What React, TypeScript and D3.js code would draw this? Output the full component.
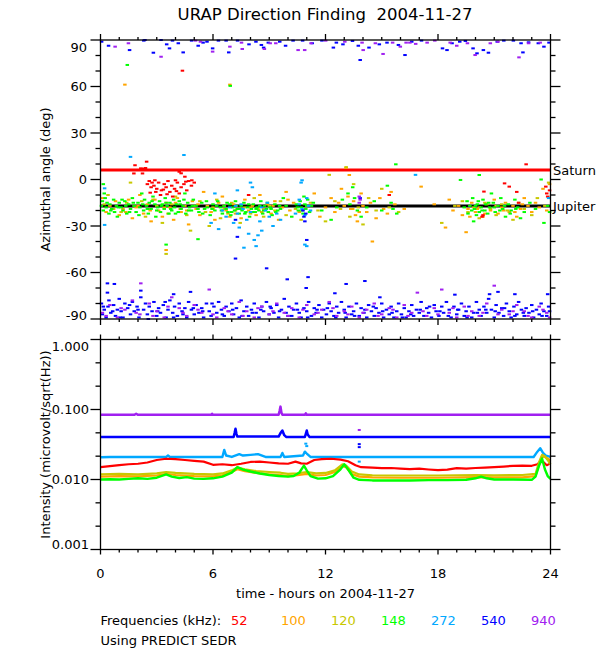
import React from 'react';
import * as d3 from 'd3';

type P = [number, number];

const title = 'URAP Direction Finding  2004-11-27';
const freqLabels = ['52', '100', '120', '148', '272', '540', '940'];
const freqColors = ['#ff0000', '#ffa500', '#c8c800', '#00ff00', '#00a8ff', '#0000ff', '#a020f0'];
const xTicks = [0, 6, 12, 18, 24];
const azTicks = [-90, -60, -30, 0, 30, 60, 90];
const intTicks = [0.001, 0.01, 0.1, 1];
const intTickLabels = ['0.001', '0.010', '0.100', '1.000'];
const saturnAngle = 6.1;
const jupiterAngle = -17.1;

// ---- azimuth scatter (hours, deg) ----
const az52: P[] = [
  [1.84, 9.2], [2.15, 7.2], [2.3, 7.0], [2.4, 7.4], [2.46, 11.5], [2.24, 3.9], [1.78, 3.9],
  [2.6, -1], [2.75, -2], [2.9, -0.5], [2.5, -3], [2.7, -5], [2.85, -4], [3.0, -6], [3.1, -2],
  [3.25, -7], [3.4, -3], [3.5, -5], [3.6, -1], [3.7, -8], [3.8, -4], [3.95, -6], [4.1, -2],
  [4.2, -9], [4.3, -5], [4.45, -3], [4.6, -7], [4.7, -1], [4.85, -4], [5.0, -2], [3.2, -10],
  [3.55, -9.5], [2.95, -8], [4.0, -0.5], [4.5, 1.8], [4.2, 5], [4.3, 4], [4.55, -1.4],
  [4.87, -0.5], [7.9, -10], [15.4, -10], [20.35, -24], [20.4, -23], [20.45, -7.8], [21.55, -2.5],
  [21.8, -4.6], [22.2, -8], [22.3, -15], [22.7, 9.8], [23.75, -4.6], [23.8, -9], [23.85, -11],
  [23.95, -7], [4.37, 70.2], [3.35, -6.5], [2.65, -8.5], [3.85, -11], [4.05, -7.5],
];

const az100: P[] = [
  [0.1, -12], [0.3, -21], [0.5, -17], [0.8, -14], [1.0, -23], [1.2, -19], [1.5, -13], [1.7, -25],
  [1.9, -18], [2.1, -10], [2.3, -22], [2.5, -16], [2.7, -27], [2.9, -13], [3.1, -20], [3.3, -24],
  [3.5, -15], [3.7, -18], [3.9, -26], [4.1, -12], [4.3, -21], [4.5, -17], [4.7, -29], [4.9, -14],
  [5.1, -19], [5.3, -23], [5.5, -8], [5.7, -17], [5.9, -21], [6.1, -26], [6.3, -15], [6.5, -11],
  [6.7, -20], [6.9, -24], [7.1, -16], [7.3, -19], [7.5, -25], [7.7, -13], [7.9, -20], [8.1, -17],
  [8.3, -23], [8.5, -10], [8.7, -19], [8.9, -16], [9.1, -22], [9.3, -14], [9.5, -26], [9.7, -18],
  [9.9, -8], [10.1, -20], [10.3, -15], [10.6, -21], [11.0, -17], [11.4, -9], [11.7, -24],
  [12.0, -18], [12.3, -12], [12.5, -21], [12.7, -15], [12.85, -6], [13.0, -17], [13.1, 7.5],
  [13.2, -11], [13.27, 2.9], [13.35, -19], [13.5, -14], [13.6, -23], [13.7, -27], [13.9, -9],
  [14.0, -17], [14.2, -21], [14.4, -15], [14.5, -40], [14.7, -25], [14.9, -12], [15.1, -19],
  [15.3, -22], [15.5, -8], [15.7, -16], [16.2, -19], [17.1, -4.6], [17.8, -16], [18.4, -31],
  [18.6, -13], [18.8, -20], [19.1, -17], [19.3, -23], [19.5, -34], [19.6, -19], [19.8, -15],
  [20.0, -21], [20.2, -18], [20.4, -24], [20.6, -16], [20.8, -20], [21.0, -13], [21.2, -22],
  [21.4, -18], [21.6, -15], [21.8, -21], [22.0, -17], [22.2, -24], [22.4, -19], [22.6, -12],
  [22.8, -17], [23.0, -21], [23.2, -15], [23.4, -18], [23.6, -6], [23.8, -20], [23.95, -3],
  [1.3, 61.2], [6.9, 61.2], [3.5, -45.5],
  [0.65, -19], [1.35, -21], [2.0, -17], [2.65, -20], [3.4, -18], [4.0, -15], [4.6, -20], [5.2, -16],
  [6.0, -19], [6.6, -17], [7.2, -22], [8.0, -18], [8.6, -21], [9.2, -17], [10.0, -13], [20.1, -19],
  [20.5, -22], [21.1, -17], [21.5, -20], [22.1, -21], [22.5, -16], [19.7, -24], [13.45, -19],
  [13.8, -21],
];

const az120: P[] = [
  [0.2, -16], [0.4, -10], [0.7, -19], [1.1, -21], [1.4, -15], [1.6, -2], [1.8, -17], [2.2, -14],
  [2.4, -24], [2.6, -19], [2.8, -13], [3.0, -17], [3.3, -28], [3.6, -22], [3.8, -16], [4.0, -11],
  [4.25, -19], [4.6, -23], [4.8, -33], [5.0, -17], [5.3, -14], [5.6, -21], [5.8, -30], [6.0, -18],
  [6.2, -13], [6.4, -25], [6.6, -19], [6.8, -22], [7.0, -15], [7.2, -20], [7.45, -28], [7.7, -18],
  [8.0, -22], [8.2, -12], [8.4, -19], [8.7, -24], [9.0, -17], [9.3, -20], [9.6, -14], [9.9, -23],
  [10.4, -19], [10.7, -26], [11.2, -15], [11.6, -20], [12.0, -27], [12.2, 3], [12.5, -14],
  [12.8, -19], [13.1, 8], [13.3, -24], [13.5, -3], [13.75, -18], [14.0, -29], [14.3, -12],
  [14.7, -20], [15.0, -6], [15.4, -18], [15.9, -21], [18.2, -28], [18.9, -17], [19.3, -14],
  [19.6, -21], [19.9, -18], [20.2, -25], [20.5, -15], [20.8, -19], [21.1, -23], [21.4, -16],
  [21.7, -20], [22.0, -26], [22.3, -15], [22.6, -19], [23.0, -23], [23.3, -12], [23.7, -17],
  [23.9, -2], [3.5, -48],
];

const az148: P[] = [
  [0.05, -17], [0.1, -14], [0.15, -20], [0.2, -9], [0.3, -18], [0.35, -15], [0.45, -22], [0.5, -16],
  [0.6, -19], [0.7, -13], [0.75, -21], [0.85, -17], [0.9, -24], [1.0, -15], [1.1, -18], [1.2, -20],
  [1.3, -14], [1.4, -22], [1.5, -16], [1.6, -19], [1.7, -12], [1.8, -17], [1.9, -21], [2.0, -15],
  [2.1, -18], [2.2, -9], [2.3, -20], [2.35, -13], [2.45, -17], [2.55, -22], [2.6, -15], [2.7, -19],
  [2.8, -11], [2.9, -16], [2.95, -24], [3.05, -18], [3.15, -14], [3.2, -21], [3.3, -16], [3.4, -19],
  [3.45, -12], [3.55, -17], [3.65, -22], [3.7, -15], [3.8, -20], [3.9, -13], [3.95, -18], [4.05, -16],
  [4.15, -21], [4.2, -14], [4.3, -19], [4.4, -17], [4.5, -9], [4.55, -22], [4.65, -15], [4.75, -18],
  [4.85, -20], [4.95, -13], [5.1, -17], [5.25, -21], [5.4, -15], [5.55, -19], [5.7, -18], [5.85, -23],
  [6.0, -16], [6.1, -20], [6.25, -14], [6.4, -18], [6.5, -22], [6.6, -17], [6.7, -19], [6.8, -21],
  [6.9, -16], [6.95, -23], [7.05, -18], [7.15, -20], [7.2, -14], [7.3, -19], [7.4, -22], [7.5, -17],
  [7.55, -20], [7.65, -15], [7.75, -21], [7.85, -18], [7.95, -24], [8.05, -19], [8.15, -16],
  [8.25, -21], [8.35, -18], [8.45, -20], [8.55, -14], [8.65, -22], [8.75, -17], [8.85, -19],
  [8.95, -21], [9.05, -18], [9.15, -23], [9.3, -16], [9.45, -20], [9.6, -19], [9.75, -12], [9.9, -17],
  [10.2, -24], [10.45, -16], [10.55, -20], [10.65, -14], [10.7, -18], [10.8, -22], [10.85, -11],
  [10.9, -16], [10.95, -19], [11.05, -13], [11.15, -21], [11.25, -17], [11.35, -15], [11.8, -20],
  [12.3, -26], [12.6, -18], [12.9, -13], [13.2, -9], [13.3, -16], [13.45, -5], [13.55, -12],
  [13.7, -20], [13.9, -24], [14.2, -18], [14.6, -14], [15.0, -20], [15.3, -4], [15.5, -15],
  [15.6, -19], [15.8, -22], [15.75, 9.8], [19.2, -0.3], [19.4, -18], [19.55, -14], [19.6, -22],
  [19.7, -17], [19.8, -20], [19.85, -12], [19.95, -19], [20.05, -23], [20.1, -16], [20.2, 2.9],
  [20.2, -21], [20.3, -18], [20.4, -13], [20.5, -20], [20.55, -16], [20.65, -22], [20.75, -18],
  [20.85, -9], [20.95, -15], [21.05, -21], [21.2, -17], [21.35, -12], [21.45, -19], [21.6, -24],
  [21.75, -16], [21.9, -20], [22.1, -13], [22.25, -18], [22.4, -25], [22.6, -21], [22.9, -15],
  [23.2, -19], [23.5, 0], [23.65, -28], [23.85, -17], [23.95, -21], [1.43, 73.9], [6.92, 60.4],
  [3.5, -42], [5.2, -38.5], [19.9, -27], [0.15, -3],
  [0.25, -12], [0.55, -20], [0.95, -18], [1.15, -13], [1.35, -17], [1.55, -21], [1.75, -15],
  [2.05, -23], [2.25, -16], [2.5, -19], [2.75, -14], [3.0, -20], [3.25, -17], [3.5, -15],
  [3.75, -19], [4.0, -22], [4.25, -16], [4.45, -13], [4.7, -20], [4.9, -17], [5.2, -19],
  [5.45, -22], [5.65, -14], [5.95, -19], [6.2, -17], [6.45, -20], [6.75, -15], [7.0, -21],
  [7.25, -17], [7.45, -19], [7.7, -22], [7.9, -16], [8.1, -21], [8.3, -19], [8.5, -17], [8.7, -20],
  [8.9, -15], [9.1, -19], [9.35, -21], [9.55, -17], [10.5, -18], [10.75, -20], [11.0, -17],
  [20.0, -17], [20.35, -20], [20.7, -15], [21.0, -18], [21.3, -20], [21.55, -17], [21.85, -22],
  [22.15, -19], [20.15, -14],
];

const az272: P[] = [
  [1.6, 14.6], [4.45, 15.8], [0.22, -5.7], [0.22, -29.3], [6.5, -20], [6.7, -24], [6.9, -18],
  [7.1, -28], [7.3, -22], [7.4, -31], [7.6, -19], [7.8, -26], [7.9, -35], [8.0, -21], [8.2, -39],
  [8.3, -43], [8.5, -27], [8.6, -33], [8.8, -20], [9.0, -24], [9.2, -30], [9.4, -22], [9.6, -26],
  [5.9, -28], [6.3, -32], [8.4, -36], [7.65, -44], [10.4, -22], [10.6, -16], [10.75, -19],
  [10.9, -23], [11.0, -12], [11.1, -17], [11.2, -20], [11.0, -43], [10.9, -42], [10.7, -2],
  [10.75, -0.5], [10.6, -13], [8.1, -5], [7.3, -7], [6.1, -9], [8.0, -2], [16.8, 3.0], [23.9, -12],
  [7.2, -17], [7.5, -16], [8.6, -18], [8.9, -15],
];

const az540: P[] = [
  [0.06, 88.9], [0.43, 86.3], [1.55, 83.5], [2.31, 89.6], [2.37, 90], [2.82, 81.8], [3.23, 90],
  [3.53, 87.2], [3.68, 84.6], [3.84, 89.6], [4.15, 87.9], [4.41, 82], [4.86, 89.6], [5.21, 86.3],
  [5.47, 88.3], [5.68, 88.9], [5.98, 84.6], [6.29, 89.6], [6.7, 89.6], [6.84, 82], [7.31, 89.6],
  [7.92, 87.2], [8.29, 88.9], [8.58, 86.8], [8.7, 85.1], [8.95, 88.3], [9.56, 88.9], [9.87, 86.3],
  [10.27, 89.6], [10.78, 89.6], [11.29, 87.9], [11.81, 89.6], [12.42, 85.1], [12.58, 88.3],
  [12.93, 87.2], [13.44, 89.4], [13.75, 86.3], [13.85, 77.1], [14.32, 85.1], [14.87, 87.2],
  [15.28, 88.3], [15.89, 86.8], [16.24, 80.3], [16.6, 88.9], [17.12, 89.6], [18.24, 84.6],
  [18.48, 83.5], [18.75, 87.9], [19.16, 88.9], [19.46, 89.4], [19.87, 84.6], [20.08, 81.4],
  [20.42, 83.5], [20.69, 81.8], [21.16, 88.9], [21.51, 89.6], [22.02, 89.6], [22.43, 87.9],
  [22.53, 82], [22.83, 88.5], [23.35, 87.9], [23.65, 85.7], [23.92, 88.3],
  [7.2, -26], [7.3, -37], [7.2, -51], [10.8, -20], [10.85, -24], [10.9, -27], [10.95, -22],
  [11.0, -39], [13.85, -12], [8.86, -57.3], [9.96, -64.4], [11.07, -63], [10.97, -70],
  [13.1, -67.4], [14.1, -65.5], [12.5, -73.4], [14.9, -76], [18.9, -74.3], [20.75, -74],
  [21.2, -72.5], [22.1, -74], [23.85, -74], [0.37, -67], [0.74, -67.4], [0.37, -73], [2.15, -71.7],
  [4.8, -72.5], [3.9, -74],
  [0.05, -80], [0.1, -87], [0.2, -84], [0.3, -89], [0.4, -82], [0.45, -78], [0.55, -86], [0.7, -81],
  [0.8, -88], [0.9, -84], [1.0, -77], [1.1, -85], [1.2, -89], [1.3, -80], [1.45, -83], [1.6, -87],
  [1.7, -79], [1.8, -85], [1.95, -82], [2.05, -89], [2.15, -76], [2.3, -84], [2.4, -80], [2.5, -87],
  [2.6, -82], [2.75, -85], [2.85, -79], [3.0, -88], [3.1, -83], [3.2, -86], [3.35, -81], [3.5, -89],
  [3.6, -84], [3.7, -78], [3.85, -86], [3.95, -82], [4.1, -88], [4.2, -80], [4.35, -85], [4.5, -83],
  [4.6, -89], [4.7, -79], [4.85, -84], [5.0, -87], [5.1, -81], [5.25, -86], [5.4, -83], [5.5, -89],
  [5.65, -80], [5.8, -85], [5.9, -88], [6.05, -82], [6.2, -86], [6.3, -79], [6.45, -84], [6.6, -88],
  [6.7, -82], [6.85, -85], [7.0, -80], [7.1, -87], [7.25, -83], [7.4, -89], [7.5, -78], [7.65, -85],
  [7.8, -82], [7.9, -88], [8.05, -84], [8.2, -80], [8.3, -86], [8.45, -89], [8.6, -82], [8.7, -85],
  [8.85, -79], [9.0, -87], [9.1, -83], [9.25, -86], [9.4, -81], [9.5, -89], [9.65, -84], [9.8, -77],
  [9.9, -86], [10.05, -82], [10.2, -88], [10.3, -84], [10.45, -80], [10.6, -86], [10.7, -89],
  [10.85, -83], [11.0, -85], [11.1, -79], [11.25, -88], [11.4, -83], [11.5, -86], [11.65, -81],
  [11.8, -89], [11.9, -84], [12.05, -87], [12.2, -80], [12.3, -85], [12.45, -88], [12.6, -82],
  [12.7, -86], [12.85, -79], [13.0, -84], [13.1, -89], [13.25, -82], [13.4, -87], [13.5, -85],
  [13.65, -80], [13.8, -88], [13.9, -83], [14.05, -86], [14.2, -89], [14.3, -81], [14.45, -85],
  [14.6, -88], [14.7, -83], [14.85, -86], [15.0, -80], [15.1, -89], [15.25, -84], [15.4, -87],
  [15.5, -82], [15.65, -89], [15.8, -85], [15.9, -80], [16.05, -87], [16.2, -83], [16.3, -89],
  [16.45, -85], [16.6, -81], [16.7, -88], [16.85, -84], [17.0, -86], [17.1, -79], [17.25, -88],
  [17.4, -83], [17.5, -86], [17.65, -89], [17.8, -81], [17.9, -85], [18.05, -88], [18.2, -82],
  [18.3, -86], [18.45, -79], [18.6, -84], [18.7, -89], [18.85, -82], [19.0, -87], [19.1, -84],
  [19.25, -80], [19.4, -88], [19.5, -85], [19.65, -82], [19.8, -89], [19.9, -86], [20.05, -79],
  [20.2, -84], [20.3, -88], [20.45, -82], [20.6, -86], [20.7, -77], [20.85, -84], [21.0, -89],
  [21.1, -81], [21.25, -86], [21.4, -83], [21.5, -88], [21.65, -80], [21.8, -85], [21.9, -89],
  [22.05, -82], [22.2, -87], [22.3, -79], [22.45, -84], [22.6, -88], [22.7, -83], [22.85, -86],
  [23.0, -81], [23.1, -89], [23.25, -84], [23.4, -87], [23.5, -80], [23.65, -85], [23.8, -88],
  [23.9, -82],
  [0.15, -82], [0.65, -85], [1.05, -89], [1.55, -81], [2.0, -84], [2.55, -90], [3.05, -85],
  [3.45, -79], [3.9, -89], [4.4, -87], [4.95, -83], [5.45, -85], [5.95, -80], [6.5, -87], [7.05, -84],
  [7.55, -88], [8.1, -86], [8.55, -84], [9.05, -82], [9.55, -85], [10.0, -88], [10.5, -84],
  [11.05, -89], [11.55, -84], [12.1, -83], [12.55, -89], [13.05, -86], [13.55, -88], [14.1, -84],
  [14.55, -82], [15.05, -85], [15.55, -86], [16.1, -89], [16.55, -87], [17.05, -84], [17.55, -82],
  [18.1, -85], [18.55, -88], [19.05, -84], [19.55, -89], [20.1, -86], [20.55, -84], [21.05, -85],
  [21.55, -83], [22.1, -88], [22.55, -86], [23.05, -85], [23.55, -88], [23.95, -85],
];

const az940: P[] = [
  [0.78, 85.7], [1.49, 87.9], [3.23, 79.2], [5.07, 89.6], [5.33, 88.9], [5.98, 82.5], [6.9, 85.7],
  [7.52, 88.3], [7.56, 84.2], [8.74, 84.2], [9.05, 87.9], [9.35, 87.9], [10.54, 83.5], [10.89, 83.5],
  [11.23, 87.9], [12.01, 89.6], [13.03, 88.9], [13.95, 88.3], [14.01, 83.5], [14.66, 87.9],
  [15.07, 81], [15.58, 88.3], [15.99, 85.7], [16.3, 88.3], [16.5, 88.3], [16.81, 87.5], [17.42, 88.3],
  [17.83, 89.6], [18.65, 88.3], [19.0, 86.3], [19.57, 87.9], [19.98, 80.3], [20.79, 87.9],
  [21.2, 88.9], [22.32, 78.8], [22.83, 87.9], [23.45, 88.3],
  [13.8, -11], [13.8, -15], [13.85, -13],
  [0.1, -86], [0.5, -81], [0.9, -89], [1.3, -84], [1.7, -78], [2.1, -87], [2.15, -67], [2.6, -80],
  [3.0, -85], [3.4, -89], [3.8, -76], [4.2, -83], [4.6, -88], [5.0, -81], [5.4, -86], [5.8, -71],
  [6.2, -89], [6.6, -83], [7.0, -87], [7.4, -79], [7.8, -85], [8.2, -89], [8.6, -82], [9.0, -87],
  [9.4, -80], [9.8, -86], [10.2, -83], [10.6, -89], [11.0, -81], [11.4, -87], [11.8, -84],
  [12.2, -79], [12.6, -88], [13.0, -85], [13.4, -82], [13.8, -89], [14.2, -84], [14.6, -80],
  [15.0, -87], [15.4, -83], [15.8, -89], [16.2, -81], [16.6, -86], [16.9, -73], [17.4, -88],
  [17.8, -83], [18.2, -71], [18.6, -86], [19.0, -89], [19.4, -82], [19.8, -85], [20.2, -88],
  [20.6, -80], [21.0, -68.5], [21.4, -84], [21.8, -87], [22.2, -81], [22.6, -85], [23.0, -89],
  [23.4, -82], [23.8, -86], [23.95, -89],
  [0.3, -88], [1.1, -83], [1.9, -86], [2.8, -88], [3.6, -82], [4.4, -86], [5.2, -84], [6.0, -87],
  [6.8, -85], [7.6, -88], [8.4, -83], [9.2, -85], [10.0, -88], [10.8, -84], [11.6, -86], [12.4, -83],
  [13.2, -87], [14.0, -86], [14.8, -88], [15.6, -84], [16.4, -88], [17.2, -85], [18.0, -87],
  [18.8, -83], [19.6, -88], [20.4, -86], [21.2, -87], [22.0, -85], [22.8, -88], [23.6, -84],
];

// ---- intensity (hours, microvolt/sqrt(Hz)) ----
const int52: P[] = [
  [0, 0.0150], [0.5, 0.0155], [1.0, 0.0160], [1.5, 0.0165], [2.0, 0.0168], [2.5, 0.0175],
  [3.0, 0.0190], [3.5, 0.0198], [4.0, 0.0195], [4.5, 0.0190], [5.0, 0.0185], [5.5, 0.0180],
  [6.0, 0.0162], [6.5, 0.0165], [7.0, 0.0160], [7.5, 0.0168], [8.0, 0.0178], [8.5, 0.0180],
  [9.0, 0.0175], [9.5, 0.0170], [10.0, 0.0168], [10.4, 0.0180], [10.7, 0.0170], [11.0, 0.0168],
  [11.4, 0.0190], [11.8, 0.0196], [12.3, 0.0198], [12.8, 0.0192], [13.2, 0.0182], [13.6, 0.0160],
  [13.9, 0.0150], [14.5, 0.0148], [15.0, 0.0145], [15.5, 0.0146], [16.0, 0.0143], [16.5, 0.0141],
  [17.0, 0.0143], [17.5, 0.0139], [18.0, 0.0136], [18.5, 0.0138], [19.0, 0.0145], [19.5, 0.0143],
  [20.0, 0.0146], [20.5, 0.0148], [21.0, 0.0150], [21.5, 0.0153], [22.0, 0.0157], [22.5, 0.0158],
  [23.0, 0.0157], [23.3, 0.0165], [23.5, 0.0185], [23.65, 0.0175], [23.8, 0.0160], [24, 0.0170],
];
const int100: P[] = [
  [0, 0.0110], [1.0, 0.0112], [2.0, 0.0111], [3.0, 0.0114], [3.5, 0.0120], [4.0, 0.0116],
  [5.0, 0.0112], [6.0, 0.0111], [6.5, 0.0115], [7.0, 0.0128], [7.3, 0.0140], [7.7, 0.0132],
  [8.3, 0.0124], [9.0, 0.0118], [9.6, 0.0116], [10.0, 0.0112], [10.5, 0.0115], [11.0, 0.0120],
  [11.5, 0.0114], [12.0, 0.0116], [12.5, 0.0128], [12.9, 0.0155], [13.1, 0.0150], [13.4, 0.0120],
  [13.8, 0.0110], [14.5, 0.0107], [16, 0.0106], [18, 0.0106], [20, 0.0108], [21, 0.0107],
  [22.5, 0.0107], [23.2, 0.0112], [23.4, 0.0170], [23.55, 0.0215], [23.7, 0.0210], [23.85, 0.0200],
  [24, 0.0185],
];
const int120: P[] = [
  [0, 0.0118], [1.0, 0.0120], [2.0, 0.0118], [3.0, 0.0122], [3.5, 0.0128], [4.0, 0.0124],
  [5.0, 0.0120], [6.0, 0.0118], [6.5, 0.0122], [7.0, 0.0135], [7.3, 0.0148], [7.7, 0.0140],
  [8.3, 0.0132], [9.0, 0.0128], [9.6, 0.0125], [10.0, 0.0120], [10.5, 0.0122], [11.0, 0.0128],
  [11.5, 0.0122], [12.0, 0.0124], [12.5, 0.0135], [12.9, 0.0165], [13.1, 0.0158], [13.4, 0.0130],
  [13.8, 0.0118], [14.5, 0.0115], [16, 0.0114], [18, 0.0114], [20, 0.0116], [21, 0.0115],
  [22.5, 0.0116], [23.2, 0.0120], [23.4, 0.0180], [23.55, 0.0225], [23.7, 0.0215], [23.85, 0.0190],
  [24, 0.0165],
];
const int148: P[] = [
  [0, 0.0100], [0.5, 0.0101], [1.0, 0.0100], [1.5, 0.0102], [2.0, 0.0104], [2.5, 0.0102],
  [3.0, 0.0106], [3.5, 0.0118], [3.8, 0.0110], [4.2, 0.0105], [4.6, 0.0108], [5.0, 0.0103],
  [5.5, 0.0102], [6.0, 0.0104], [6.5, 0.0110], [7.0, 0.0125], [7.3, 0.0150], [7.6, 0.0138],
  [8.0, 0.0130], [8.5, 0.0122], [9.0, 0.0116], [9.5, 0.0112], [10.0, 0.0110], [10.3, 0.0112],
  [10.6, 0.0125], [10.85, 0.0158], [11.0, 0.0135], [11.2, 0.0112], [11.6, 0.0103], [12.0, 0.0104],
  [12.4, 0.0112], [12.8, 0.0140], [13.0, 0.0165], [13.2, 0.0140], [13.5, 0.0106], [13.8, 0.0099],
  [14.5, 0.0097], [15.5, 0.0097], [16.5, 0.0097], [17.5, 0.0098], [18.5, 0.0098], [19.5, 0.0099],
  [20.0, 0.0104], [20.3, 0.0110], [20.6, 0.0104], [21.0, 0.0100], [22.0, 0.0100], [23.0, 0.0099],
  [23.2, 0.0110], [23.4, 0.0160], [23.55, 0.0200], [23.7, 0.0140], [23.85, 0.0112], [24, 0.0102],
];
const int272: P[] = [
  [0, 0.0208], [0.5, 0.0210], [3.5, 0.0210], [3.6, 0.0220], [3.7, 0.0210], [6.5, 0.0210],
  [6.6, 0.0265], [6.7, 0.0220], [7.0, 0.0210], [7.4, 0.0230], [7.6, 0.0220], [8.0, 0.0225],
  [8.4, 0.0230], [8.8, 0.0210], [9.6, 0.0210], [9.7, 0.0240], [9.8, 0.0210], [10.8, 0.0220],
  [10.9, 0.0250], [11.0, 0.0235], [11.2, 0.0210], [13.8, 0.0210], [17.5, 0.0210], [19.2, 0.0210],
  [23.1, 0.0210], [23.3, 0.0250], [23.45, 0.0280], [23.6, 0.0240], [23.75, 0.0220], [24, 0.0210],
];
const int540: P[] = [
  [0, 0.0405], [5.0, 0.0405], [7.1, 0.0405], [7.15, 0.046], [7.2, 0.053], [7.25, 0.045],
  [7.3, 0.041], [9.5, 0.041], [9.6, 0.046], [9.7, 0.050], [9.8, 0.043], [9.9, 0.0405],
  [10.9, 0.0405], [10.95, 0.045], [11.0, 0.050], [11.05, 0.044], [11.15, 0.0405], [24, 0.0405],
];
const int940: P[] = [
  [0, 0.084], [1.8, 0.084], [1.9, 0.087], [2.0, 0.084], [5.9, 0.084], [5.95, 0.087], [6.0, 0.084],
  [9.5, 0.084], [9.55, 0.095], [9.6, 0.110], [9.65, 0.090], [9.7, 0.084], [10.9, 0.084],
  [10.95, 0.088], [11.0, 0.084], [24, 0.084],
];
// isolated intensity dots (hours, value, series index)
const intDots: [number, number, number][] = [
  [13.8, 0.051, 6], [13.8, 0.032, 5], [13.8, 0.029, 5], [10.95, 0.0325, 4], [11.0, 0.030, 4],
  [9.6, 0.100, 6], [13.8, 0.018, 4],
];

const azSeries = [az52, az100, az120, az148, az272, az540, az940];
const azDrawOrder = [1, 2, 3, 0, 4, 5, 6];
const intSeries = [int52, int100, int120, int148, int272, int540, int940];
const intDrawOrder = [6, 5, 4, 0, 1, 2, 3];
const intWidths = [2.2, 2.2, 2.2, 2.4, 2.4, 2.5, 2.5];

const FONT = "'DejaVu Sans', 'Liberation Sans', Arial, sans-serif";

export default function App() {
  const L = 100.5, R = 550.5;
  const x = d3.scaleLinear().domain([0, 24]).range([L, R]);
  const yA = d3.scaleLinear().domain([-90, 90]).range([319, 40]);
  const yI = d3.scaleLog().domain([0.001, 1]).range([549.5, 339.5]);

  const xMinor = d3.range(0, 25, 1);
  const azMinor = d3.range(-90, 91, 10);
  const intMinor: number[] = [];
  [-3, -2, -1].forEach((k) => {
    intMinor.push(Math.pow(10, k + 1 / 3), Math.pow(10, k + 2 / 3));
  });

  const line = d3
    .line<P>()
    .x((d) => x(d[0]))
    .y((d) => yI(d[1]));

  const ax = { stroke: '#000', strokeWidth: 1.3, fill: 'none' } as const;
  const txt = { fontFamily: FONT, fontSize: 13, fill: '#000' } as const;

  const panelTop = yA(90), panelBot = yA(-90);
  const iTop = yI(1), iBot = yI(0.001);

  const xTickLines = (yT: number, yB: number, majLen: number, minLen: number) =>
    xMinor.map((h) => {
      const len = h % 6 === 0 ? majLen : minLen;
      return (
        <g key={'xt' + yT + '_' + h}>
          <line x1={x(h)} x2={x(h)} y1={yT} y2={yT - len} {...ax} />
          <line x1={x(h)} x2={x(h)} y1={yB} y2={yB + len} {...ax} />
        </g>
      );
    });

  return (
    <svg
      width={600}
      height={650}
      style={{ position: 'absolute', left: 0, top: 0, background: '#fff' }}
    >
      <rect x={0} y={0} width={600} height={650} fill="#fff" />
      <text
        x={325}
        y={14}
        textAnchor="middle"
        dominantBaseline="central"
        style={{ ...txt, fontSize: 16.5, whiteSpace: 'pre' }}
      >
        {title}
      </text>

      {/* ---- top panel ---- */}
      <line x1={x(0)} x2={x(24)} y1={yA(saturnAngle)} y2={yA(saturnAngle)} stroke="#ff0000" strokeWidth={3} />
      <line x1={x(0)} x2={x(24)} y1={yA(jupiterAngle)} y2={yA(jupiterAngle)} stroke="#000" strokeWidth={3} />
      {azDrawOrder.map((si) => (
        <g key={'az' + si} fill={freqColors[si]}>
          {azSeries[si].map((d, i) => (
            <rect key={i} x={x(d[0]) - 1.75} y={yA(d[1]) - 1} width={3.5} height={2} />
          ))}
        </g>
      ))}
      <rect x={L} y={panelTop} width={R - L} height={panelBot - panelTop} {...ax} />
      {xTickLines(panelTop, panelBot, 6, 3)}
      {azMinor.map((a) => {
        const len = a % 30 === 0 ? 10 : 5;
        return (
          <g key={'ay' + a}>
            <line x1={L} x2={L - len} y1={yA(a)} y2={yA(a)} {...ax} />
            <line x1={R} x2={R + len} y1={yA(a)} y2={yA(a)} {...ax} />
          </g>
        );
      })}
      {azTicks.map((a) => (
        <text
          key={'al' + a}
          x={87}
          y={yA(a) + (a === 90 ? 7 : a === -90 ? -4 : 0)}
          textAnchor="end"
          dominantBaseline="central"
          style={txt}
        >
          {a}
        </text>
      ))}
      <text x={553} y={yA(saturnAngle)} dominantBaseline="central" style={txt}>Saturn</text>
      <text x={553} y={yA(jupiterAngle)} dominantBaseline="central" style={txt}>Jupiter</text>
      <text
        transform={`translate(45,${(panelTop + panelBot) / 2}) rotate(-90)`}
        textAnchor="middle"
        dominantBaseline="central"
        style={txt}
      >
        Azimuthal angle (deg)
      </text>

      {/* ---- bottom panel ---- */}
      {intDrawOrder.map((si) => (
        <path
          key={'il' + si}
          d={line(intSeries[si]) || ''}
          fill="none"
          stroke={freqColors[si]}
          strokeWidth={intWidths[si]}
          strokeLinejoin="round"
        />
      ))}
      {intDots.map((d, i) => (
        <rect key={'id' + i} x={x(d[0]) - 1.5} y={yI(d[1]) - 1} width={3} height={2} fill={freqColors[d[2]]} />
      ))}
      <rect x={L} y={iTop} width={R - L} height={iBot - iTop} {...ax} />
      {xTickLines(iTop, iBot, 5, 3)}
      {intTicks.map((v) => (
        <g key={'iy' + v}>
          <line x1={L} x2={L - 10} y1={yI(v)} y2={yI(v)} {...ax} />
          <line x1={R} x2={R + 10} y1={yI(v)} y2={yI(v)} {...ax} />
        </g>
      ))}
      {intMinor.map((v) => (
        <g key={'im' + v}>
          <line x1={L} x2={L - 5} y1={yI(v)} y2={yI(v)} {...ax} />
          <line x1={R} x2={R + 5} y1={yI(v)} y2={yI(v)} {...ax} />
        </g>
      ))}
      {intTicks.map((v, i) => (
        <text
          key={'itl' + v}
          x={89}
          y={yI(v) + (v === 1 ? 6.5 : v === 0.001 ? -5 : 0)}
          textAnchor="end"
          dominantBaseline="central"
          style={txt}
        >
          {intTickLabels[i]}
        </text>
      ))}
      <text
        transform={`translate(45,${(iTop + iBot) / 2}) rotate(-90)`}
        textAnchor="middle"
        dominantBaseline="central"
        style={txt}
      >
        Intensity (microvolt/sqrt(Hz))
      </text>

      {xTicks.map((h) => (
        <text key={'xl' + h} x={x(h)} y={573} textAnchor="middle" dominantBaseline="central" style={txt}>
          {h}
        </text>
      ))}
      <text x={(L + R) / 2} y={593} textAnchor="middle" dominantBaseline="central" style={txt}>
        time - hours on 2004-11-27
      </text>

      <text x={L} y={620} dominantBaseline="central" style={txt}>Frequencies (kHz):</text>
      {freqLabels.map((f, i) => (
        <text key={'fl' + f} x={231 + i * 50} y={620} dominantBaseline="central" style={{ ...txt, fill: freqColors[i] }}>
          {f}
        </text>
      ))}
      <text x={L} y={640} dominantBaseline="central" style={txt}>Using PREDICT SEDR</text>
    </svg>
  );
}
